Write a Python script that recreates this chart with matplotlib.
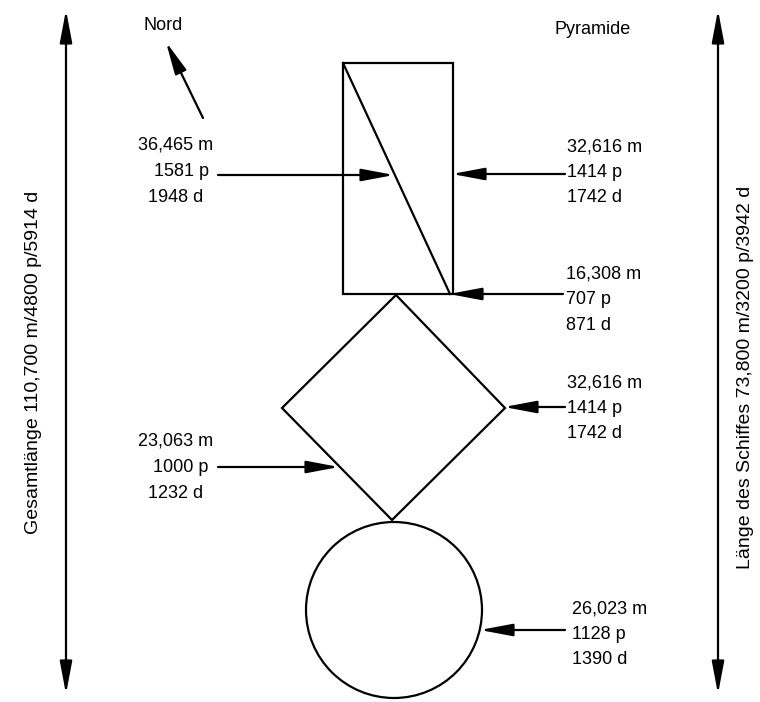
import matplotlib.pyplot as plt
from matplotlib.patches import Rectangle, Polygon, Circle

plt.rcParams['font.family'] = ['Liberation Sans Narrow', 'Liberation Sans', 'DejaVu Sans']

# measurements (metres / pyramids / d)
left_labels = [["36,465 m", "1581 p", "1948 d"],
               ["23,063 m", "1000 p", "1232 d"]]
right_labels = [["32,616 m", "1414 p", "1742 d"],
                ["16,308 m", "707 p", "871 d"],
                ["32,616 m", "1414 p", "1742 d"],
                ["26,023 m", "1128 p", "1390 d"]]
total_label = "Gesamtlänge 110,700 m/4800 p/5914 d"
ship_label = "Länge des Schiffes 73,800 m/3200 p/3942 d"
north_label = "Nord"
pyramid_label = "Pyramide"

fig = plt.figure(figsize=(7.6, 7.02), dpi=100)
ax = fig.add_axes([0, 0, 1, 1])
ax.set_xlim(0, 760)
ax.set_ylim(702, 0)
ax.axis('off')

lw = 1.6
head = '-|>,head_length=0.9,head_width=0.17'
arr = dict(arrowstyle=head, mutation_scale=22, lw=lw, color='black', shrinkA=0, shrinkB=0)

def arrow(x0, y0, x1, y1):
    ax.annotate('', xy=(x1, y1), xytext=(x0, y0), arrowprops=arr)

# shapes
ax.add_patch(Rectangle((343, 63), 110, 231, fill=False, lw=lw, ec='black'))
ax.plot([343, 450], [63, 294], color='black', lw=lw)
ax.add_patch(Polygon([(396, 295), (505, 408), (392, 520), (282, 408)], closed=True,
                     fill=False, lw=lw, ec='black'))
ax.add_patch(Circle((394, 610), 88, fill=False, lw=lw, ec='black'))

# outer double arrows
for x in (66, 718):
    ax.annotate('', xy=(x, 10), xytext=(x, 694),
                arrowprops=dict(arrowstyle='<|-|>,head_length=0.9,head_width=0.17',
                                mutation_scale=22, lw=lw, color='black',
                                shrinkA=0, shrinkB=0))

ax.text(34, 362, total_label, rotation=90, ha='center', va='center', fontsize=14)
ax.text(746, 377, ship_label, rotation=90, ha='center', va='center', fontsize=14)

ax.text(163, 25, north_label, ha='center', va='center', fontsize=13)
arrow(203, 118, 166, 42)
ax.text(593, 29, pyramid_label, ha='center', va='center', fontsize=13)

fs = 13
# left labels
left_y = [145, 441]
left_x = [176, 176]
left_arrows = [(218, 175, 394, 175), (218, 467, 339, 467)]
for lab, x, y, a in zip(left_labels, left_x, left_y, left_arrows):
    ax.text(x, y, lab[0], ha='center', va='center', fontsize=fs)
    ax.text(x + 5, y + 26, lab[1], ha='center', va='center', fontsize=fs)
    ax.text(x, y + 53, lab[2], ha='center', va='center', fontsize=fs)
    arrow(*a)

# right labels
right_y = [147, 274, 383, 609]
right_x = [567, 566, 567, 572]
right_arrows = [(565, 174, 452, 174), (563, 294, 449, 294),
                (565, 407, 504, 407), (565, 630, 480, 630)]
for lab, x, y, a in zip(right_labels, right_x, right_y, right_arrows):
    for i, s in enumerate(lab):
        ax.text(x, y + i * 25.5, s, ha='left', va='center', fontsize=fs)
    arrow(*a)

fig.savefig('out.png', dpi=100, facecolor='white')
